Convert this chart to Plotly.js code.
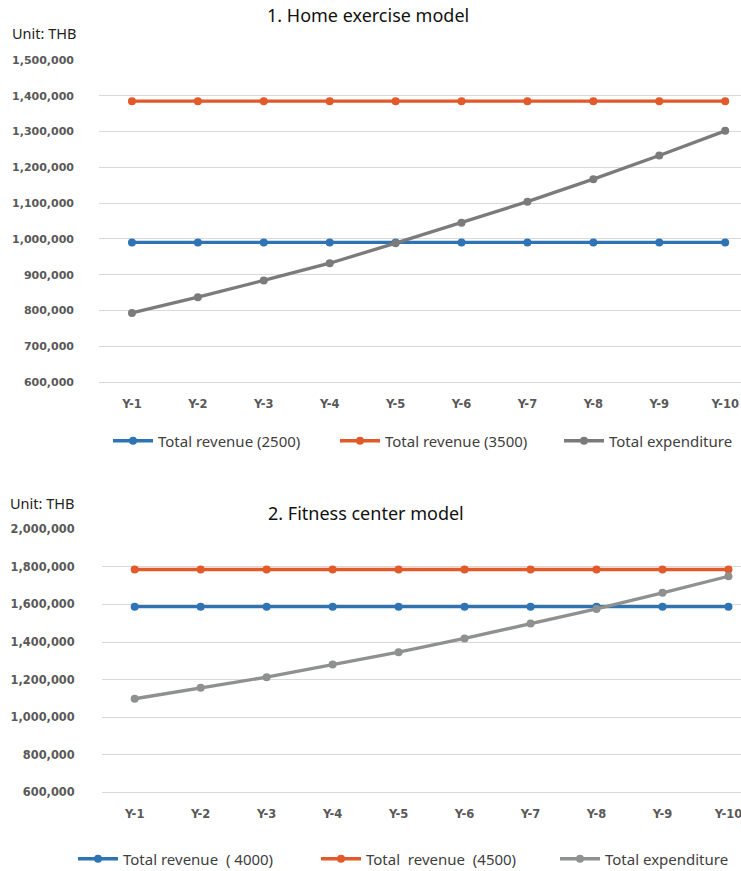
<!DOCTYPE html>
<html>
<head>
<meta charset="utf-8">
<script src="https://cdn.plot.ly/plotly-3.0.1.min.js"></script>
<style>html,body{margin:0;padding:0;background:#fff;}#chart{width:741px;height:871px;}</style>
</head>
<body>
<div id="chart"></div>
<script>
// ---- data ----
var years = ['Y-1','Y-2','Y-3','Y-4','Y-5','Y-6','Y-7','Y-8','Y-9','Y-10'];
var homeRevenue2500 = [990000, 990000, 990000, 990000, 990000, 990000, 990000, 990000, 990000, 990000];
var homeRevenue3500 = [1385000, 1385000, 1385000, 1385000, 1385000, 1385000, 1385000, 1385000, 1385000, 1385000];
var homeExpenditure = [793000, 837000, 884000, 932000, 988000, 1045000, 1104000, 1167000, 1233000, 1302000];
var fitRevenue4000 = [1588000, 1588000, 1588000, 1588000, 1588000, 1588000, 1588000, 1588000, 1588000, 1588000];
var fitRevenue4500 = [1786000, 1786000, 1786000, 1786000, 1786000, 1786000, 1786000, 1786000, 1786000, 1786000];
var fitExpenditure = [1098000, 1156000, 1213000, 1280000, 1346000, 1419000, 1498000, 1576000, 1662000, 1750000];
var homeNames = ['Total revenue (2500)', 'Total revenue (3500)', 'Total expenditure'];
var fitNames = ['Total revenue\u00a0\u00a0(\u00a04000)', 'Total\u00a0\u00a0revenue\u00a0\u00a0(4500)', 'Total expenditure'];

var W = 741, H = 871;
function px(x){ return x / W; }
function py(y){ return 1 - y / H; }

var blue = '#2E74B5', orange = '#E2592A', grayTop = '#7B7B7B', grayBot = '#8E9190';

function tr(x, y, name, color, xa, ya, lg) {
  return {
    x: x, y: y, name: name, type: 'scatter', mode: 'lines+markers',
    xaxis: xa, yaxis: ya, legend: lg,
    line: {color: color, width: 3.3},
    marker: {color: color, size: 8}
  };
}

var data = [
  tr(years, homeRevenue2500, homeNames[0], blue, 'x', 'y', 'legend'),
  tr(years, homeRevenue3500, homeNames[1], orange, 'x', 'y', 'legend2'),
  tr(years, homeExpenditure, homeNames[2], grayTop, 'x', 'y', 'legend3'),
  tr(years, fitRevenue4000, fitNames[0], blue, 'x2', 'y2', 'legend4'),
  tr(years, fitRevenue4500, fitNames[1], orange, 'x2', 'y2', 'legend5'),
  tr(years, fitExpenditure, fitNames[2], grayBot, 'x2', 'y2', 'legend6')
];

var tickFontTop = {family: 'DejaVu Sans', size: 11, color: '#595959', weight: 'bold'};
var tickFontBot = {family: 'DejaVu Sans', size: 11.4, color: '#595959', weight: 'bold'};
var xTickFont = {family: 'DejaVu Sans', size: 11.5, color: '#595959', weight: 'bold'};
var legFont = {family: 'Noto Sans', size: 15, color: '#404040'};

function leg(xp, yp) {
  return {orientation: 'h', x: px(xp), xanchor: 'left', y: py(yp), yanchor: 'middle',
          font: legFont, itemwidth: 40, bgcolor: 'rgba(0,0,0,0)'};
}

var layout = {
  width: W, height: H,
  margin: {l: 0, r: 0, t: 0, b: 0, autoexpand: false},
  paper_bgcolor: '#fff', plot_bgcolor: '#fff',
  showlegend: true,
  font: {family: 'Noto Sans', color: '#404040'},
  xaxis: {
    domain: [px(99), 1], range: [-0.5, 9.24], type: 'category',
    showgrid: false, showline: true, linecolor: '#d9d9d9', linewidth: 1,
    ticks: '', tickfont: xTickFont, ticklabelstandoff: 11, anchor: 'y', fixedrange: true
  },
  yaxis: {
    domain: [py(382), py(60)], range: [600000, 1500000], dtick: 100000,
    tickformat: ',d', showgrid: true, gridcolor: '#d9d9d9', gridwidth: 1,
    zeroline: false, showline: false, ticks: '', tickfont: tickFontTop,
    ticklabelstandoff: 24, anchor: 'x', fixedrange: true
  },
  xaxis2: {
    domain: [px(101.7), 1], range: [-0.5, 9.19], type: 'category',
    showgrid: false, showline: true, linecolor: '#d9d9d9', linewidth: 1,
    ticks: '', tickfont: xTickFont, ticklabelstandoff: 11, anchor: 'y2', fixedrange: true
  },
  yaxis2: {
    domain: [py(792.3), py(529.3)], range: [600000, 2000000], dtick: 200000,
    tickformat: ',d', showgrid: true, gridcolor: '#d9d9d9', gridwidth: 1,
    zeroline: false, showline: false, ticks: '', tickfont: tickFontBot,
    ticklabelstandoff: 26, anchor: 'x2', fixedrange: true
  },
  legend: leg(108, 441),
  legend2: leg(335, 441),
  legend3: leg(559, 441),
  legend4: leg(73, 859),
  legend5: leg(316, 859),
  legend6: leg(555, 859),
  annotations: [
    {text: '1. Home exercise model', xref: 'paper', yref: 'paper', x: px(368), y: py(15),
     xanchor: 'center', yanchor: 'middle', showarrow: false,
     font: {family: 'Noto Sans', size: 18, color: '#111'}},
    {text: 'Unit: THB', xref: 'paper', yref: 'paper', x: px(10), y: py(33),
     xanchor: 'left', yanchor: 'middle', showarrow: false,
     font: {family: 'Noto Sans', size: 14.5, color: '#222'}},
    {text: '2. Fitness center model', xref: 'paper', yref: 'paper', x: px(366), y: py(513),
     xanchor: 'center', yanchor: 'middle', showarrow: false,
     font: {family: 'Noto Sans', size: 18, color: '#111'}},
    {text: 'Unit: THB', xref: 'paper', yref: 'paper', x: px(8), y: py(503),
     xanchor: 'left', yanchor: 'middle', showarrow: false,
     font: {family: 'Noto Sans', size: 14.5, color: '#222'}}
  ]
};

Plotly.newPlot('chart', data, layout, {staticPlot: true, displayModeBar: false});
</script>
</body>
</html>
